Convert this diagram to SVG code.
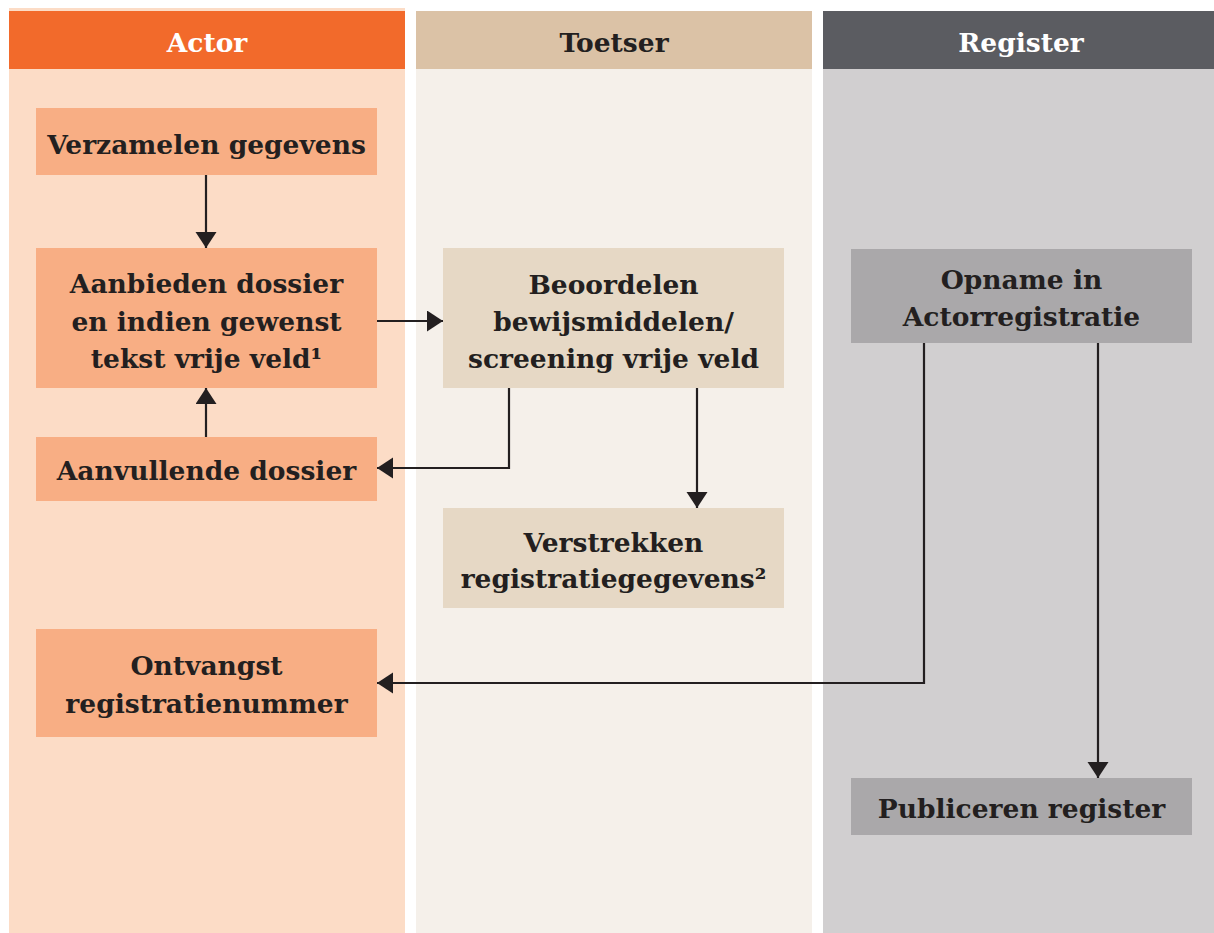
<svg xmlns="http://www.w3.org/2000/svg" width="1214" height="933" viewBox="0 0 1214 933">
<style>
.t{font-family:"DejaVu Serif","Liberation Serif",serif;font-weight:bold;font-size:26.5px;fill:#231F20;text-anchor:middle}
.w{fill:#FFFFFF}
.c{fill:none;stroke:#231F20;stroke-width:2.2}
</style>
<defs>
<marker id="ah" markerUnits="userSpaceOnUse" markerWidth="17" markerHeight="22" refX="16" refY="10.5" orient="auto">
<path d="M0,0 L16,10.5 L0,21 Z" fill="#231F20"/>
</marker>
</defs>
<rect width="1214" height="933" fill="#FFFFFF"/>
<g id="lane-actor">
<rect x="9" y="8" width="396" height="925" fill="#FCDCC6"/>
<rect x="9" y="11" width="396" height="58" fill="#F26A2B"/>
<text class="t w" x="207" y="52">Actor</text>
</g>
<g id="lane-toetser">
<rect x="416" y="11" width="396" height="922" fill="#F5F0EA"/>
<rect x="416" y="11" width="396" height="58" fill="#DBC2A6"/>
<text class="t" x="614" y="52">Toetser</text>
</g>
<g id="lane-register">
<rect x="823" y="11" width="391" height="922" fill="#D1CFD0"/>
<rect x="823" y="11" width="391" height="58" fill="#5B5C61"/>
<text class="t w" x="1021" y="52">Register</text>
</g>
<g id="connectors">
<path class="c" d="M206,175 V248" marker-end="url(#ah)"/>
<path class="c" d="M377,321 H443" marker-end="url(#ah)"/>
<path class="c" d="M206,437 V388" marker-end="url(#ah)"/>
<path class="c" d="M509,388 V468 H377" marker-end="url(#ah)"/>
<path class="c" d="M697,388 V508" marker-end="url(#ah)"/>
<path class="c" d="M924,343 V683 H377" marker-end="url(#ah)"/>
<path class="c" d="M1098,343 V778" marker-end="url(#ah)"/>
</g>
<g id="verzamelen">
<rect x="36" y="108" width="341" height="67" fill="#F8AE84"/>
<text class="t" x="206.5" y="154">Verzamelen gegevens</text>
</g>
<g id="aanbieden">
<rect x="36" y="248" width="341" height="140" fill="#F8AE84"/>
<text class="t" x="206.5" y="293">Aanbieden dossier</text>
<text class="t" x="206.5" y="331">en indien gewenst</text>
<text class="t" x="206.5" y="368">tekst vrije veld¹</text>
</g>
<g id="aanvullende">
<rect x="36" y="437" width="341" height="64" fill="#F8AE84"/>
<text class="t" x="206.5" y="480">Aanvullende dossier</text>
</g>
<g id="ontvangst">
<rect x="36" y="629" width="341" height="108" fill="#F8AE84"/>
<text class="t" x="206.5" y="675">Ontvangst</text>
<text class="t" x="206.5" y="713">registratienummer</text>
</g>
<g id="beoordelen">
<rect x="443" y="248" width="341" height="140" fill="#E6D8C5"/>
<text class="t" x="613.5" y="294">Beoordelen</text>
<text class="t" x="613.5" y="331">bewijsmiddelen/</text>
<text class="t" x="613.5" y="368">screening vrije veld</text>
</g>
<g id="verstrekken">
<rect x="443" y="508" width="341" height="100" fill="#E6D8C5"/>
<text class="t" x="613.5" y="552">Verstrekken</text>
<text class="t" x="613.5" y="588">registratiegegevens²</text>
</g>
<g id="opname">
<rect x="851" y="249" width="341" height="94" fill="#AAA8AA"/>
<text class="t" x="1021.5" y="289">Opname in</text>
<text class="t" x="1021.5" y="326">Actorregistratie</text>
</g>
<g id="publiceren">
<rect x="851" y="778" width="341" height="57" fill="#AAA8AA"/>
<text class="t" x="1021.5" y="818">Publiceren register</text>
</g>
</svg>
